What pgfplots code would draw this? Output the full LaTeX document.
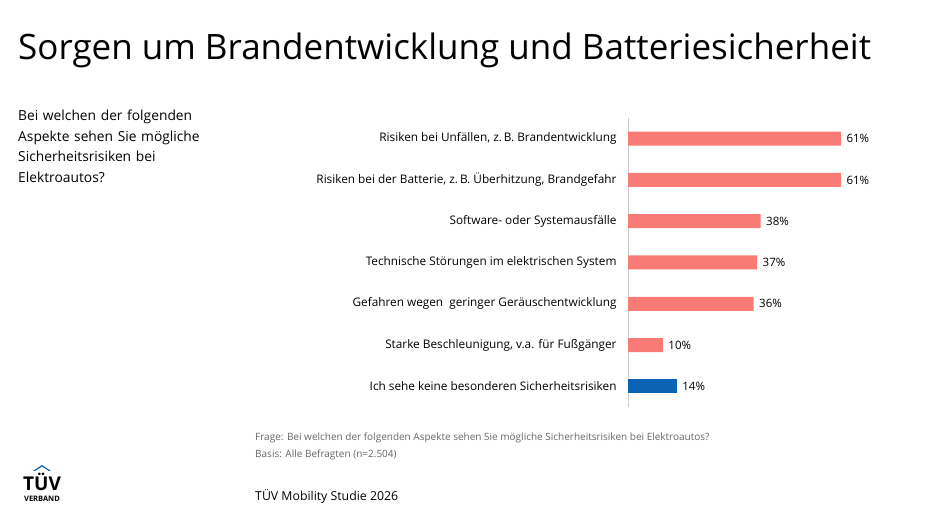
\documentclass[border=0pt]{standalone}
\usepackage{pgfplots}
\pgfplotsset{compat=1.18}
\usepackage{fontspec}
\setmainfont{Open Sans}
\definecolor{salmon}{HTML}{F87B75}
\definecolor{tblue}{HTML}{0B63B6}
\begin{document}
\begin{tikzpicture}[x=1pt,y=1pt]
\path[use as bounding box] (0,0) rectangle (945,532);
\node[anchor=west,font=\fontsize{35}{40}\selectfont,inner sep=0pt] at (18,482) {Sorgen um Brandentwicklung und Batteriesicherheit};
\node[anchor=north west,align=left,font=\fontsize{13.8}{20.5}\selectfont,text width=220pt,inner sep=0pt] at (18,422) {Bei welchen der folgenden\\Aspekte sehen Sie mögliche\\Sicherheitsrisiken bei\\Elektroautos?};
\begin{axis}[at={(628pt,125pt)},anchor=south west,scale only axis,
 width=213pt,height=289pt,xmin=0,xmax=61,ymin=-0.5,ymax=6.5,y dir=reverse,
 axis x line=none,axis y line*=left,y axis line style={draw=gray!40,line width=0.6pt},
 ytick={0,...,6},major tick length=0pt,clip=false,
 /pgf/number format/assume math mode=true,
 yticklabels={Risiken bei Unfällen{,} z.\,B. Brandentwicklung,Risiken bei der Batterie{,} z.\,B. Überhitzung{,} Brandgefahr,Software- oder Systemausfälle,Technische Störungen im elektrischen System,Gefahren wegen\ \ geringer Geräuschentwicklung,Starke Beschleunigung{,} v.a. für Fußgänger,Ich sehe keine besonderen Sicherheitsrisiken},
 yticklabel style={font=\fontsize{11.8}{13}\selectfont,xshift=-8pt},
 xbar,bar width=14pt,bar shift=0pt,
 nodes near coords={\pgfmathprintnumber{\pgfplotspointmeta}\%},
 nodes near coords style={font=\fontsize{11.5}{13}\selectfont,xshift=2pt},
 point meta=x]
\addplot[fill=salmon,draw=none] coordinates {(61,0) (61,1) (38,2) (37,3) (36,4) (10,5)};
\addplot[fill=tblue,draw=none] coordinates {(14,6)};
\end{axis}
\node[anchor=north west,text=gray!80!black,align=left,font=\fontsize{10}{17}\selectfont,inner sep=0pt] at (255,99) {Frage: Bei welchen der folgenden Aspekte sehen Sie mögliche Sicherheitsrisiken bei Elektroautos?\\Basis: Alle Befragten (n=2.504)};
\node[anchor=west,font=\fontsize{12.3}{14}\selectfont,inner sep=0pt] at (255,36) {TÜV Mobility Studie 2026};
\node[font=\bfseries\fontsize{19}{20}\selectfont,inner sep=0pt] at (42,50) {TÜV};
\node[font=\bfseries\fontsize{7.5}{8}\selectfont,inner sep=0pt] at (42,33) {VERBAND};
\fill[tblue] (33,61) -- (42,67) -- (51,61) -- (49,61) -- (42,65.5) -- (35,61) -- cycle;
\end{tikzpicture}
\end{document}
